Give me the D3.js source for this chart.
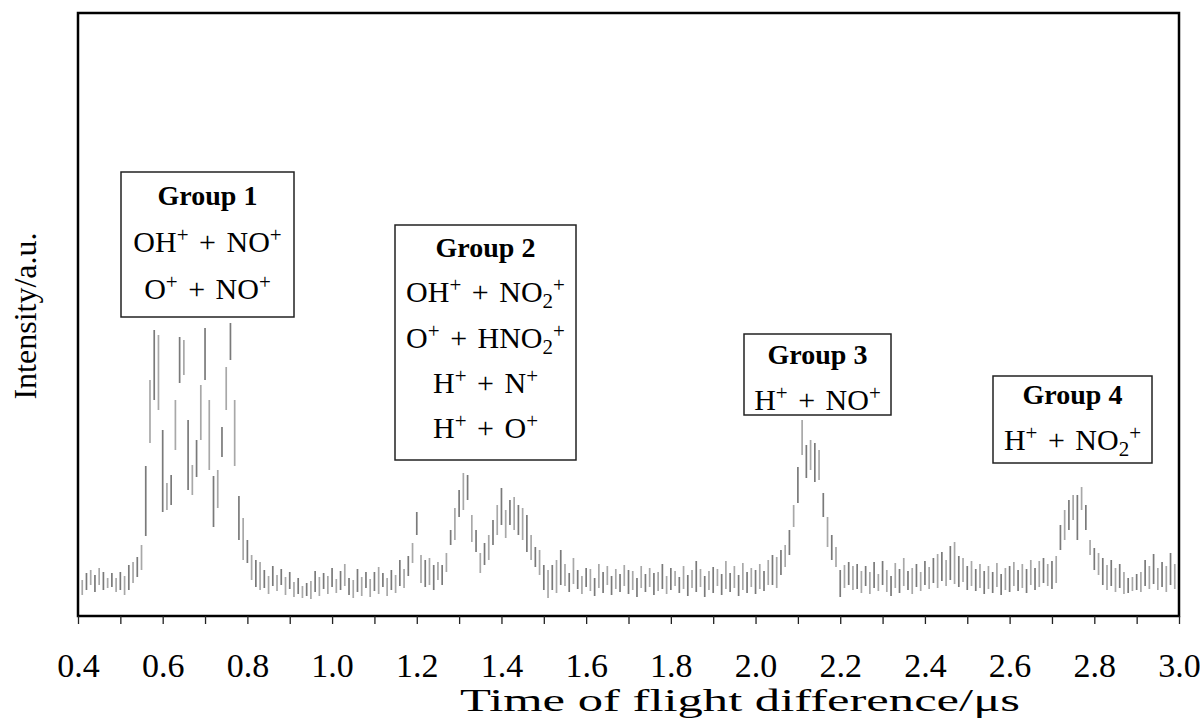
<!DOCTYPE html>
<html>
<head>
<meta charset="utf-8">
<script src="https://cdn.jsdelivr.net/npm/d3@7/dist/d3.min.js"></script>
<style>
  body { margin: 0; background: #fff; }
  svg { display: block; font-family: "Liberation Serif", "Times New Roman", serif; }
</style>
</head>
<body>
<div id="chart"></div>
<script>
// each row: [time of flight difference (us), low edge, high edge] of the trace (a.u.)
var baseLeft = [[0.40,29,41],[0.41,21,36],[0.42,26,43],[0.43,31,46],[0.44,24,41],[0.45,31,48],
  [0.46,26,44],[0.47,28,38],[0.48,29,43],[0.49,24,38],[0.50,26,44],[0.51,21,40],[0.52,26,51],[0.53,33,54]];

var peakGroup1 = [[0.54,39,59],[0.55,46,71],[0.56,80,150],[0.57,173,236],[0.58,216,286],[0.59,206,281],
  [0.60,104,186],[0.61,106,133],[0.62,111,141],[0.63,166,216],[0.64,233,279],[0.65,241,276],
  [0.66,126,196],[0.67,121,151],[0.68,139,176],[0.69,176,231],[0.70,236,288],[0.71,146,216],
  [0.72,89,140],[0.73,108,146],[0.74,159,189],[0.75,206,249],[0.76,256,293],[0.77,150,216],
  [0.78,76,120],[0.79,56,98],[0.80,53,76],[0.81,36,61],[0.82,29,56],[0.83,26,54]];

var baseMid1 = [[0.84,28,46],[0.85,22,40],[0.86,30,50],[0.87,25,41],[0.88,31,47],[0.89,21,39],
  [0.90,27,44],[0.91,19,34],[0.92,22,38],[0.93,18,30],[0.94,20,33],[0.95,17,35],[0.96,24,45],
  [0.97,20,39],[0.98,27,43],[0.99,22,40],[1.00,29,48],[1.01,23,37],[1.02,26,45],[1.03,30,52],
  [1.04,21,38],[1.05,18,36],[1.06,24,47],[1.07,20,39],[1.08,28,44],[1.09,19,37],[1.10,25,44],
  [1.11,22,49],[1.12,29,43],[1.13,20,38],[1.14,26,46],[1.15,23,41],[1.16,30,56],[1.17,28,47]];

var peakGroup2 = [[1.18,40,60],[1.19,53,73],[1.20,81,104],[1.21,33,61],[1.22,29,56],[1.23,31,58],
  [1.24,26,51],[1.25,36,54],[1.26,31,51],[1.27,44,63],[1.28,71,86],[1.29,76,108],[1.30,99,126],
  [1.31,106,143],[1.32,116,141],[1.33,74,101],[1.34,64,86],[1.35,43,63],[1.36,51,73],[1.37,56,81],
  [1.38,71,96],[1.39,81,111],[1.40,91,128],[1.41,78,106],[1.42,91,116],[1.43,86,119],[1.44,81,111],
  [1.45,76,108],[1.46,64,101],[1.47,56,81],[1.48,49,69],[1.49,41,66],[1.50,26,51],[1.51,18,46],
  [1.52,26,51],[1.53,23,56],[1.54,31,66]];

var baseMid2 = [[1.55,30,52],[1.56,24,43],[1.57,32,58],[1.58,27,46],[1.59,22,40],[1.60,29,48],
  [1.61,25,47],[1.62,20,38],[1.63,28,52],[1.64,23,44],[1.65,31,50],[1.66,21,40],[1.67,27,47],
  [1.68,24,42],[1.69,30,51],[1.70,22,46],[1.71,26,45],[1.72,19,38],[1.73,28,50],[1.74,24,42],
  [1.75,29,48],[1.76,21,43],[1.77,25,44],[1.78,27,52],[1.79,22,40],[1.80,26,48],[1.81,30,45],
  [1.82,23,39],[1.83,27,50],[1.84,20,41],[1.85,28,46],[1.86,24,55],[1.87,29,47],[1.88,19,40],
  [1.89,26,45],[1.90,23,49],[1.91,30,47],[1.92,21,42],[1.93,27,55],[1.94,24,43],[1.95,28,50],
  [1.96,20,41],[1.97,26,53],[1.98,23,44],[1.99,29,48],[2.00,22,46],[2.01,27,52],[2.02,25,45]];

var peakGroup3 = [[2.03,31,56],[2.04,31,61],[2.05,28,59],[2.06,41,66],[2.07,49,71],[2.08,61,86],
  [2.09,89,111],[2.10,113,149],[2.11,161,196],[2.12,138,171],[2.13,146,176],[2.14,134,173],
  [2.15,136,166],[2.16,99,123],[2.17,69,99],[2.18,56,81],[2.19,49,69],[2.20,19,46],[2.21,28,51],
  [2.22,31,54],[2.23,26,50]];

var baseMid3 = [[2.24,27,52],[2.25,23,45],[2.26,30,50],[2.27,22,44],[2.28,28,54],[2.29,25,42],
  [2.30,31,55],[2.31,24,46],[2.32,20,40],[2.33,28,53],[2.34,23,47],[2.35,30,58],[2.36,26,45],
  [2.37,22,48],[2.38,29,52],[2.39,25,44],[2.40,31,55],[2.41,27,49],[2.42,33,58],[2.43,28,62],
  [2.44,35,64],[2.45,30,56],[2.46,36,70],[2.47,32,74],[2.48,29,60],[2.49,34,58],[2.50,26,50],
  [2.51,30,55],[2.52,25,47],[2.53,28,52],[2.54,22,45],[2.55,27,50],[2.56,23,44],[2.57,29,53],
  [2.58,21,42],[2.59,26,48],[2.60,24,50],[2.61,30,54],[2.62,25,46],[2.63,28,52],[2.64,23,47],
  [2.65,31,56],[2.66,26,48],[2.67,29,55],[2.68,33,58]];

var peakGroup4 = [[2.69,30,52],[2.70,27,55],[2.71,33,60],[2.72,66,91],[2.73,76,106],[2.74,86,116],
  [2.75,96,121],[2.76,76,121],[2.77,106,129],[2.78,86,111],[2.79,61,76],[2.80,46,68],[2.81,41,63],
  [2.82,31,58],[2.83,26,51],[2.84,30,56],[2.85,24,48],[2.86,28,52],[2.87,22,44],[2.88,23,38],
  [2.89,25,39],[2.90,26,42],[2.91,24,44],[2.92,30,56],[2.93,27,50],[2.94,32,62],[2.95,26,48],
  [2.96,29,54],[2.97,24,50],[2.98,31,63],[2.99,27,52],[3.00,35,60]];

var tickValues = [0.4,0.5,0.6,0.7,0.8,0.9,1.0,1.1,1.2,1.3,1.4,1.5,1.6,1.7,1.8,1.9,2.0,
  2.1,2.2,2.3,2.4,2.5,2.6,2.7,2.8,2.9,3.0];
var tickLabels = ["0.4","","0.6","","0.8","","1.0","","1.2","","1.4","","1.6","","1.8","",
  "2.0","","2.2","","2.4","","2.6","","2.8","","3.0"];

var groupTitles = ["Group 1", "Group 2", "Group 3", "Group 4"];
// ^ = superscript character, _ = subscript character
var groupIons = [
  ["OH^+ + NO^+", "O^+ + NO^+"],
  ["OH^+ + NO_2^+", "O^+ + HNO_2^+", "H^+ + N^+", "H^+ + O^+"],
  ["H^+ + NO^+"],
  ["H^+ + NO_2^+"]
];

// label boxes, in pixels
var boxLayout = [
  { x: 121, y: 172, w: 173, h: 145, base: 205, step: 47 },
  { x: 395, y: 225, w: 181, h: 235, base: 257, step: 45.3 },
  { x: 744, y: 334, w: 147, h: 81, base: 364, step: 46 },
  { x: 993, y: 376, w: 159, h: 87, base: 404, step: 46 }
];

var trace = [].concat(baseLeft, peakGroup1, baseMid1, peakGroup2, baseMid2,
  peakGroup3, baseMid3, peakGroup4);

var width = 1200, height = 719;
var plotL = 78, plotR = 1179, plotT = 13, plotB = 616;

var svg = d3.select('#chart').append('svg')
  .attr('width', width)
  .attr('height', height);

var x = d3.scaleLinear().domain([0.4, 3.0]).range([plotL, plotR]);
var y = d3.scaleLinear().domain([0, plotB - plotT]).range([plotB, plotT]);

// the trace: one short vertical stroke per sample
svg.append('g')
  .selectAll('line')
  .data(trace)
  .enter()
  .append('line')
  .attr('x1', function(d) { return x(d[0]); })
  .attr('x2', function(d) { return x(d[0]); })
  .attr('y1', function(d) { return y(d[1]); })
  .attr('y2', function(d) { return y(d[2]); })
  .attr('stroke', function(d, i) { return i % 2 ? '#a8a8a8' : '#7a7a7a'; })
  .attr('stroke-width', 1.7);

// frame
svg.append('rect')
  .attr('x', plotL)
  .attr('y', plotT)
  .attr('width', plotR - plotL)
  .attr('height', plotB - plotT)
  .attr('fill', 'none')
  .attr('stroke', '#000')
  .attr('stroke-width', 2.5);

var xAxis = d3.axisBottom(x)
  .tickValues(tickValues)
  .tickSize(8)
  .tickFormat(function(d, i) { return tickLabels[i]; });

var gx = svg.append('g')
  .attr('transform', 'translate(0,' + plotB + ')')
  .call(xAxis);
gx.select('.domain').remove();
gx.selectAll('.tick line').attr('stroke', '#222').attr('stroke-width', 1.3);
gx.selectAll('.tick text')
  .attr('y', 61)
  .attr('dy', 0)
  .attr('fill', '#000')
  .style('font-family', '"Liberation Serif", serif')
  .style('font-size', '34px');

svg.append('text')
  .attr('x', 740)
  .attr('y', 711)
  .attr('text-anchor', 'middle')
  .attr('textLength', 560)
  .attr('lengthAdjust', 'spacingAndGlyphs')
  .style('font-size', '31px')
  .text('Time of flight difference/\u03bcs');

svg.append('text')
  .attr('transform', 'translate(36,316) rotate(-90)')
  .attr('text-anchor', 'middle')
  .style('font-size', '32px')
  .text('Intensity/a.u.');

function richText(sel, s) {
  var parts = s.match(/\^.|_.|[^\^_]+/g);
  parts.forEach(function(p) {
    if (p[0] === '^') {
      sel.append('tspan').attr('baseline-shift', '10px').style('font-size', '21px').text(p[1]);
    } else if (p[0] === '_') {
      sel.append('tspan').attr('baseline-shift', '-6px').style('font-size', '21px').text(p[1]);
    } else {
      sel.append('tspan').text(p);
    }
  });
}

var boxes = svg.selectAll('.group-box')
  .data(boxLayout)
  .enter()
  .append('g')
  .attr('class', 'group-box');

boxes.append('rect')
  .attr('x', function(d) { return d.x; })
  .attr('y', function(d) { return d.y; })
  .attr('width', function(d) { return d.w; })
  .attr('height', function(d) { return d.h; })
  .attr('fill', '#fff')
  .attr('stroke', '#222')
  .attr('stroke-width', 1.5);

boxes.each(function(d, i) {
  var g = d3.select(this);
  var cx = d.x + d.w / 2;
  g.append('text')
    .attr('x', cx)
    .attr('y', d.base)
    .attr('text-anchor', 'middle')
    .style('font-size', '28px')
    .style('font-weight', 'bold')
    .text(groupTitles[i]);
  groupIons[i].forEach(function(line, j) {
    var t = g.append('text')
      .attr('x', cx)
      .attr('y', d.base + d.step * (j + 1))
      .attr('text-anchor', 'middle')
      .style('font-size', '30px')
      .style('word-spacing', '3px');
    richText(t, line);
  });
});
</script>
</body>
</html>
